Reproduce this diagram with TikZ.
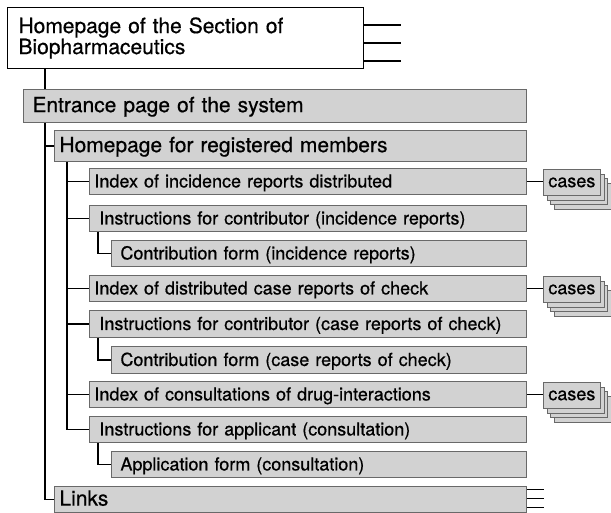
\documentclass[tikz,border=0pt]{standalone}
\usepackage{fontspec}
\setmainfont[FakeBold=0.6]{TeX Gyre Heros}
\definecolor{boxfill}{RGB}{210,210,210}
\definecolor{boxline}{RGB}{105,105,105}
\begin{document}
\begin{tikzpicture}[x=1pt,y=-1pt,
  gbox/.style={draw=boxline, fill=boxfill, line width=0.9pt, anchor=north west, align=left, inner ysep=0pt},
  big/.style={font=\fontsize{21}{24}\selectfont, text height=16pt, text depth=3.6pt},
  small/.style={font=\fontsize{18}{21}\selectfont, text height=14pt, text depth=2pt},
  conn/.style={line width=1.4pt, black},
  thin/.style={line width=1pt, black},
  cbox/.style={draw=boxline, fill=boxfill, line width=0.9pt, anchor=west, minimum width=57pt, minimum height=26pt, inner sep=0pt, font=\fontsize{18}{21}\selectfont},
]
\useasboundingbox (0,0) rectangle (611,512);

% top box
\node[draw=black, fill=white, line width=1pt, anchor=north west, align=left,
      font=\fontsize{21}{21}\selectfont, text width=334pt, inner xsep=11pt,
      minimum height=61pt] (top) at (7,7) {Homepage of the Section of\\Biopharmaceutics};

% level 0 / 1
\node[gbox, big, inner xsep=9pt, text width=485pt, minimum height=33pt] (ent) at (23,89) {Entrance page of the system};
\node[gbox, big, inner xsep=5pt, text width=462pt, minimum height=31pt] (reg) at (54,130) {Homepage for registered members};
\node[gbox, big, inner xsep=5pt, text width=462pt, minimum height=26pt] (links) at (54,486) {Links};

% level 2
\node[gbox, small, inner xsep=5pt, text width=427pt, minimum height=26pt] (i1) at (89,168) {Index of incidence reports distributed};
\node[gbox, small, inner xsep=10pt, text width=417pt, minimum height=26pt] (c1) at (89,205) {Instructions for contributor (incidence reports)};
\node[gbox, small, inner xsep=5pt, text width=427pt, minimum height=26pt] (i2) at (89,275) {Index of distributed case reports of check};
\node[gbox, small, inner xsep=10pt, text width=417pt, minimum height=27pt] (c2) at (89,310) {Instructions for contributor (case reports of check)};
\node[gbox, small, inner xsep=5pt, text width=427pt, minimum height=26pt] (i3) at (89,381) {Index of consultations of drug-interactions};
\node[gbox, small, inner xsep=10pt, text width=417pt, minimum height=26pt] (c3) at (89,416) {Instructions for applicant (consultation)};

% level 3
\node[gbox, small, inner xsep=9pt, text width=397pt, minimum height=26pt] (f1) at (111,240) {Contribution form (incidence reports)};
\node[gbox, small, inner xsep=9pt, text width=397pt, minimum height=27pt] (f2) at (111,346) {Contribution form (case reports of check)};
\node[gbox, small, inner xsep=9pt, text width=397pt, minimum height=26pt] (f3) at (111,451) {Application form (consultation)};

% tree connectors
\coordinate (tr0) at ([xshift=22pt]ent.south west);
\draw[conn] (top.south -| tr0) -- (ent.north -| tr0);
\draw[conn] (tr0) |- (links.west);
\draw[conn] (reg.west -| tr0) -- (reg.west);

\coordinate (tr1) at ([xshift=13pt]reg.south west);
\draw[conn] (tr1) |- (c3.west);
\foreach \n in {i1,c1,i2,c2,i3}{
  \draw[conn] (\n.west -| tr1) -- (\n.west);
}
\foreach \a/\b in {c1/f1,c2/f2,c3/f3}{
  \draw[conn] ([xshift=9pt]\a.south west) |- (\b.west);
}

% lines to the right of the top box
\foreach \y/\k in {25/a,43/b,61/c}{
  \coordinate (te\k) at ([xshift=37pt]top.east |- 0,\y);
  \draw[conn] (top.east |- 0,\y) -- (te\k);
}
% lines to the right of Links
\foreach \y/\k in {489/a,498/b,507/c}{
  \coordinate (le\k) at ([xshift=17pt]links.east |- 0,\y);
  \draw[thin] (links.east |- 0,\y) -- (le\k);
}

% cases stacks
\foreach \n/\k in {i1/k1,i2/k2,i3/k3}{
  \node[cbox] (\k c) at ([shift={(27.1,15.1)}]\n.east) {};
  \node[cbox] (\k b) at ([shift={(23.4,10.4)}]\n.east) {};
  \node[cbox] (\k a) at ([shift={(19.7,5.7)}]\n.east) {};
  \node[cbox] (\k) at ([shift={(16,1)}]\n.east) {cases};
  \draw[conn] (\n.east) -- (\n.east -| \k.west);
}
\end{tikzpicture}
\end{document}
